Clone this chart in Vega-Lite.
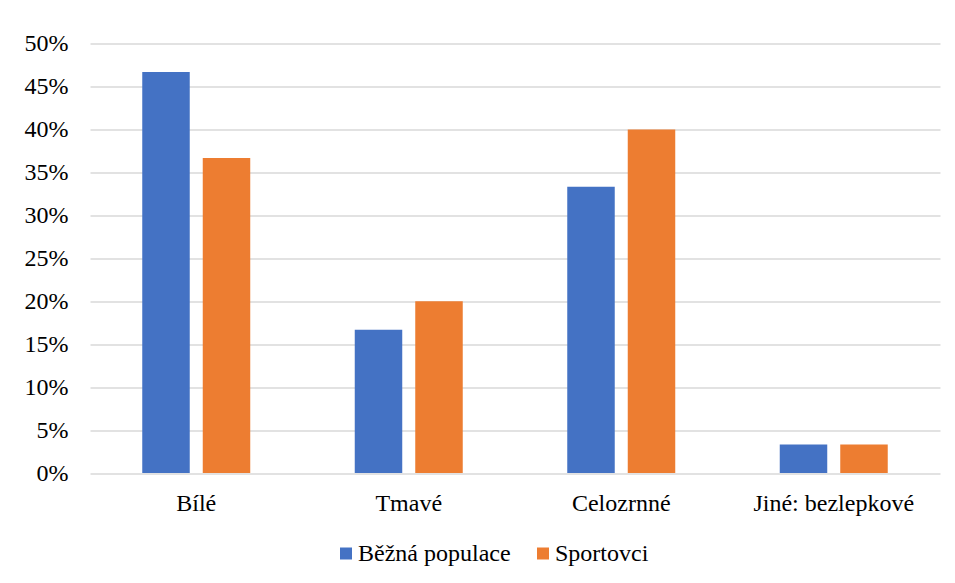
{
  "$schema": "https://vega.github.io/schema/vega-lite/v6.json",
  "width": 850,
  "height": 429.5,
  "autosize": {"type": "none"},
  "padding": {"left": 90, "top": 43.5, "right": 15, "bottom": 110},
  "background": "white",
  "config": {
    "view": {"stroke": null},
    "font": "Liberation Serif"
  },
  "data": {
    "values": [
      {"kategorie": "Bílé", "skupina": "Běžná populace", "podil": 0.4667},
      {"kategorie": "Bílé", "skupina": "Sportovci", "podil": 0.3667},
      {"kategorie": "Tmavé", "skupina": "Běžná populace", "podil": 0.1667},
      {"kategorie": "Tmavé", "skupina": "Sportovci", "podil": 0.2},
      {"kategorie": "Celozrnné", "skupina": "Běžná populace", "podil": 0.3333},
      {"kategorie": "Celozrnné", "skupina": "Sportovci", "podil": 0.4},
      {"kategorie": "Jiné: bezlepkové", "skupina": "Běžná populace", "podil": 0.0333},
      {"kategorie": "Jiné: bezlepkové", "skupina": "Sportovci", "podil": 0.0333}
    ]
  },
  "mark": {"type": "bar"},
  "encoding": {
    "x": {
      "field": "kategorie",
      "type": "nominal",
      "sort": ["Bílé", "Tmavé", "Celozrnné", "Jiné: bezlepkové"],
      "scale": {"paddingInner": 0.4918, "paddingOuter": 0.2459},
      "axis": {
        "title": null,
        "labelAngle": 0,
        "ticks": false,
        "domain": false,
        "labelFont": "Liberation Serif",
        "labelColor": "#000000",
        "labelFontSize": 24,
        "labelPadding": 18,
        "labelLimit": 300
      }
    },
    "xOffset": {
      "field": "skupina",
      "type": "nominal",
      "sort": ["Běžná populace", "Sportovci"],
      "scale": {"paddingInner": 0.215, "paddingOuter": 0}
    },
    "y": {
      "field": "podil",
      "type": "quantitative",
      "scale": {"domain": [0, 0.5], "nice": false},
      "axis": {
        "title": null,
        "format": ".0%",
        "values": [0, 0.05, 0.1, 0.15, 0.2, 0.25, 0.3, 0.35, 0.4, 0.45, 0.5],
        "domain": false,
        "ticks": false,
        "grid": true,
        "gridColor": "#d9d9d9",
        "gridWidth": 1.3,
        "labelFont": "Liberation Serif",
        "labelColor": "#000000",
        "labelFontSize": 24,
        "labelPadding": 22
      }
    },
    "color": {
      "field": "skupina",
      "type": "nominal",
      "sort": ["Běžná populace", "Sportovci"],
      "scale": {"domain": ["Běžná populace", "Sportovci"], "range": ["#4472C4", "#ED7D31"]},
      "legend": {
        "title": null,
        "orient": "none",
        "direction": "horizontal",
        "legendX": 244,
        "legendY": 498,
        "symbolType": "square",
        "symbolSize": 144,
        "symbolStrokeWidth": 0,
        "labelFont": "Liberation Serif",
        "labelColor": "#000000",
        "labelFontSize": 24,
        "labelOffset": 0,
        "columnPadding": 20
      }
    }
  }
}
